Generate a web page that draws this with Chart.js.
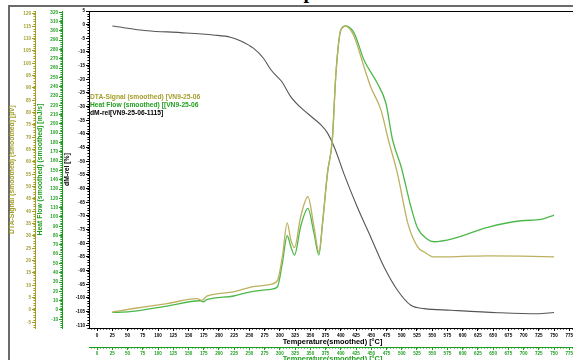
<!DOCTYPE html>
<html lang="en">
<head>
    <meta charset="UTF-8">
    <title>complex</title>
    <script src="https://cdn.jsdelivr.net/npm/chart.js"></script>
    <style>
        body { margin: 0; width: 573px; height: 360px; overflow: hidden; background: #fff; position: relative; font-family: "Liberation Sans", Arial, sans-serif; }
        #frame { position: absolute; left: 8px; top: 5px; width: 600px; height: 400px; border-left: 2px solid #6a6a6a; border-top: 2px solid #6a6a6a; }
        #title { position: absolute; left: 268px; top: -19px; font: bold 20px "Liberation Serif", "Times New Roman", serif; line-height: 20px; color: #000; }
        #chartBox { position: absolute; left: 0; top: 0; }
        .leg { position: absolute; left: 90px; font-weight: bold; font-size: 6.7px; line-height: 8px; white-space: nowrap; }
    </style>
</head>
<body>
    <div id="title">complex</div>
    <div id="frame"></div>
    <div id="chartBox"><canvas id="thermo" width="576" height="364"></canvas></div>
    <div class="leg" style="top:93px;color:#a39e2a">DTA-Signal (smoothed) [VN9-25-06</div>
    <div class="leg" style="top:101px;color:#22a022">Heat Flow (smoothed) [[VN9-25-06</div>
    <div class="leg" style="top:109px;color:#000">dM-rel[VN9-25-06-1115]</div>

    <script>
        // DTA signal (uV)
        var dtaTemp = [25, 60, 115, 164, 172, 180, 224, 252, 285, 296, 304, 312, 318, 324, 334, 346, 356, 364, 370, 378, 386, 392, 400, 408, 422, 438, 449, 466, 478, 493, 510, 526, 537, 553, 614, 641, 696, 750];
        var dtaVal = [-0.8, 0.6, 2.6, 4.6, 3.9, 5.6, 7.3, 9.3, 10.4, 12, 21.5, 35.3, 28.3, 25.3, 37.7, 45.9, 33.7, 23.5, 35.1, 55.3, 68.9, 95.9, 113.5, 115.1, 110.8, 98.6, 90.5, 81, 69, 55.3, 35.1, 25.6, 23.5, 21.5, 21.8, 21.9, 21.8, 21.5];

        // Heat flow (mJ/s)
        var hfTemp = [25, 54, 115, 169, 174, 180, 224, 252, 285, 296, 304, 312, 318, 324, 334, 346, 356, 364, 370, 378, 386, 392, 400, 408, 422, 438, 460, 474, 485, 499, 515, 526, 542, 553, 586, 641, 696, 729, 750];
        var hfVal = [-2.6, -1.9, 4.2, 9.9, 8.8, 11, 15, 19.5, 22.2, 25, 50.1, 79.8, 68, 59, 89.5, 109.2, 82.4, 59, 93.1, 146.9, 182.7, 254.4, 301, 305.3, 297.4, 268.7, 243.7, 222.2, 182.7, 154, 111, 88, 76, 73.3, 77, 88.8, 95.9, 97.4, 102];

        // mass change dM-rel (%)
        var dmTemp = [25, 82, 137, 191, 219, 235, 257, 273, 285, 293, 303, 318, 339, 352, 367, 378, 390, 405, 427, 449, 471, 493, 515, 537, 581, 658, 723, 750];
        var dmVal = [-0.5, -2.2, -2.9, -3.8, -4.6, -5.9, -8.7, -12.3, -16.4, -18.5, -20.8, -26.4, -31.3, -33.7, -36.6, -39.6, -45.2, -54.5, -66.7, -77.7, -88.7, -97.2, -102.7, -103.9, -104.5, -105.4, -105.8, -105.3];

        // tick labels
        var tempTicks = [];
        for (var t = 0; t <= 775; t += 25) tempTicks.push(t);
        var dtaTicks = [];
        for (var a = 120; a >= -5; a -= 5) dtaTicks.push(a);
        var hfTicks = [];
        for (var b = 320; b >= -10; b -= 10) hfTicks.push(b);
        var dmTicks = [];
        for (var c = 5; c >= -110; c -= 5) dmTicks.push(c);

        var OLIVE = '#a39e2a';
        var GREEN = '#1e9e1e';
        var tickFont = { size: 4.6, weight: 'bold', family: '"Liberation Sans", Arial, sans-serif' };
        var titleFont = { size: 6.8, weight: 'bold', family: '"Liberation Sans", Arial, sans-serif' };

        function pairs(xs, ys) {
            return xs.map(function (x, i) { return { x: x, y: ys[i] }; });
        }
        function useTicks(list) {
            return function (scale) { scale.ticks = list.map(function (v) { return { value: v }; }); };
        }
        function fixWidth(w) { return function (scale) { scale.width = w; }; }
        function fixHeight(h) { return function (scale) { scale.height = h; }; }

        function yAxis(color, lo, hi, list, label, width, weight) {
            return {
                type: 'linear', position: 'left', min: lo, max: hi, weight: weight,
                afterBuildTicks: useTicks(list),
                afterFit: fixWidth(width),
                grid: { drawOnChartArea: false, color: color, tickLength: 3 },
                border: { color: color, width: 1 },
                ticks: { color: color, font: tickFont, padding: 1 },
                title: { display: true, text: label, color: color, font: titleFont, padding: { top: 1, bottom: 0 } }
            };
        }
        function xAxis(color, height, weight, pad) {
            return {
                type: 'linear', position: 'bottom', min: -13.3, max: 786, weight: weight,
                afterBuildTicks: useTicks(tempTicks),
                afterFit: fixHeight(height),
                grid: { drawOnChartArea: false, color: color, tickLength: 3 },
                border: { color: color, width: 1 },
                ticks: { color: color, font: tickFont, padding: pad, maxRotation: 0, autoSkip: false },
                title: { display: true, text: 'Temperature(smoothed) [°C]', color: color, font: { size: 7.4, weight: 'bold', family: titleFont.family }, padding: { top: 0, bottom: 1 } }
            };
        }

        // small minor ticks drawn against the library's own scales
        var minorTicks = {
            id: 'minorTicks',
            afterDraw: function (chart) {
                var spec = [['x', 5, '#000'], ['x2', 5, GREEN], ['yDm', 1, '#000'], ['yHf', 2, GREEN], ['yDta', 1, OLIVE]];
                var ctx = chart.ctx;
                ctx.save();
                ctx.lineWidth = 1;
                spec.forEach(function (s) {
                    var sc = chart.scales[s[0]];
                    ctx.strokeStyle = s[2];
                    ctx.beginPath();
                    for (var v = Math.ceil(sc.min / s[1]) * s[1]; v <= sc.max; v += s[1]) {
                        var p = Math.round(sc.getPixelForValue(v)) + 0.5;
                        if (sc.isHorizontal()) {
                            ctx.moveTo(p, sc.top); ctx.lineTo(p, sc.top + 1.6);
                        } else {
                            ctx.moveTo(sc.right, p); ctx.lineTo(sc.right - 1.6, p);
                        }
                    }
                    ctx.stroke();
                });
                ctx.restore();
            }
        };

        new Chart(document.getElementById('thermo').getContext('2d'), {
            type: 'line',
            data: {
                datasets: [
                    { label: 'DTA', data: pairs(dtaTemp, dtaVal), yAxisID: 'yDta', xAxisID: 'x', borderColor: '#bdb160', borderWidth: 1.3 },
                    { label: 'Heat Flow', data: pairs(hfTemp, hfVal), yAxisID: 'yHf', xAxisID: 'x', borderColor: '#4cb84c', borderWidth: 1.3 },
                    { label: 'dM-rel', data: pairs(dmTemp, dmVal), yAxisID: 'yDm', xAxisID: 'x', borderColor: '#555555', borderWidth: 1.1 }
                ]
            },
            options: {
                responsive: false,
                animation: false,
                parsing: false,
                elements: { point: { radius: 0 }, line: { cubicInterpolationMode: 'monotone', fill: false } },
                layout: { padding: { left: 7, top: 11, right: 0, bottom: 0 } },
                plugins: { legend: { display: false }, tooltip: { enabled: false } },
                scales: {
                    x: xAxis('#000', 19, 0, 2),
                    x2: xAxis(GREEN, 17, 1, 1),
                    xt: {
                        type: 'linear', position: 'top', min: -13.3, max: 786,
                        afterFit: fixHeight(0),
                        ticks: { display: false },
                        grid: { drawOnChartArea: false, drawTicks: false },
                        border: { color: '#000', width: 1 }
                    },
                    yDm: yAxis('#000', -111, 5, dmTicks, 'dM-rel [%]', 27, 1),
                    yHf: yAxis(GREEN, -19.4, 321.4, hfTicks, 'Heat Flow (smoothed) (smoothed) [mJ/s]', 27, 2),
                    yDta: yAxis(OLIVE, -7.3, 121.2, dtaTicks, 'DTA-Signal (smoothed) (smoothed) [µV]', 28, 3)
                }
            },
            plugins: [minorTicks]
        });
    </script>
</body>
</html>
